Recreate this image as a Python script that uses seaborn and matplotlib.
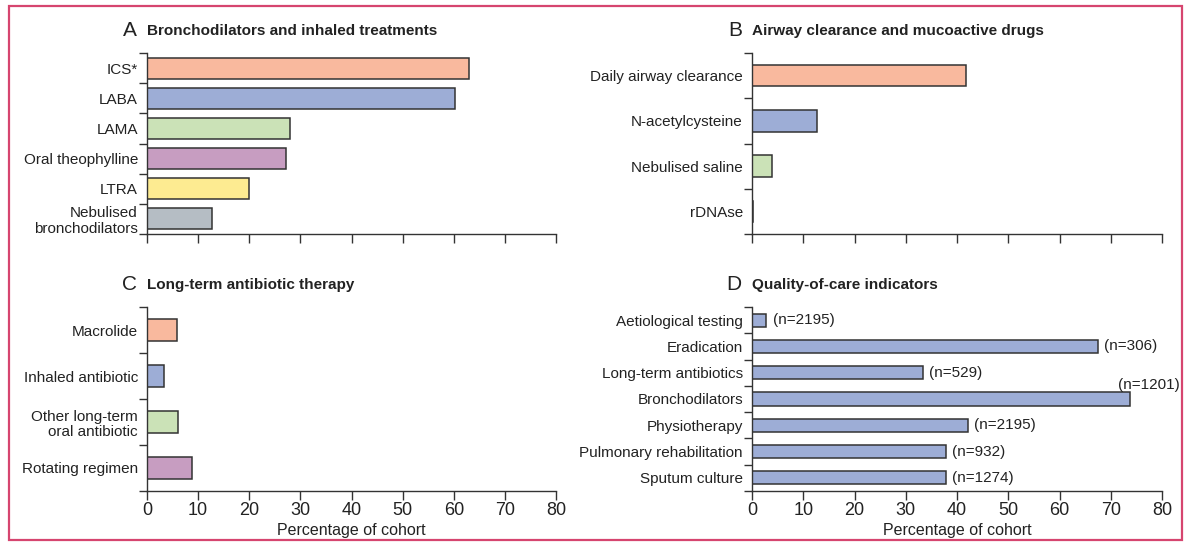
import matplotlib
matplotlib.use('Agg')
import matplotlib.pyplot as plt
import numpy as np
import seaborn as sns
from matplotlib.patches import Rectangle
from matplotlib.ticker import FixedLocator

# A: bronchodilators and inhaled treatments
a_labels = ['ICS*', 'LABA', 'LAMA', 'Oral theophylline', 'LTRA', 'Nebulised\nbronchodilators']
a_values = [63.0, 60.2, 27.9, 27.2, 19.9, 12.8]

# B: airway clearance and mucoactive drugs
b_labels = ['Daily airway clearance', 'N-acetylcysteine', 'Nebulised saline', 'rDNAse']
b_values = [41.8, 12.7, 3.9, 0.2]

# C: long-term antibiotic therapy
c_labels = ['Macrolide', 'Inhaled antibiotic', 'Other long-term\noral antibiotic', 'Rotating regimen']
c_values = [5.9, 3.4, 6.1, 8.8]

# D: quality-of-care indicators
d_labels = ['Aetiological testing', 'Eradication', 'Long-term antibiotics', 'Bronchodilators',
            'Physiotherapy', 'Pulmonary rehabilitation', 'Sputum culture']
d_values = [2.8, 67.5, 33.4, 73.7, 42.1, 37.9, 37.9]
d_n = ['(n=2195)', '(n=306)', '(n=529)', '(n=1201)', '(n=2195)', '(n=932)', '(n=1274)']

x_ticks = [0, 10, 20, 30, 40, 50, 60, 70, 80]

colors = ['#F9B99E', '#9DADD6', '#CBE2B7', '#C79DC1', '#FDEB91', '#B5BDC4']
d_color = '#9DADD6'
ink = '#333333'

sns.set_theme(style='ticks')
plt.rcParams['font.family'] = ['Liberation Sans Narrow', 'Liberation Sans', 'DejaVu Sans']

fig = plt.figure(figsize=(11.89, 5.44), dpi=100)

ax_a = fig.add_axes([147 / 1189, 1 - 234 / 544, 409 / 1189, 181 / 544])
ax_b = fig.add_axes([752 / 1189, 1 - 234 / 544, 410 / 1189, 181 / 544])
ax_c = fig.add_axes([147 / 1189, 1 - 491 / 544, 409 / 1189, 184 / 544])
ax_d = fig.add_axes([752 / 1189, 1 - 491 / 544, 410 / 1189, 184 / 544])


def draw_panel(ax, labels, values, palette, width, letter, title, show_x):
    n = len(labels)
    sns.barplot(x=values, y=labels, hue=labels, palette=palette, width=width, saturation=1,
                edgecolor=ink, linewidth=1.1, legend=False, ax=ax, orient='h')
    ax.set_xlim(0, 80)
    ax.set_ylim(n - 0.5, -0.5)
    ax.set_xticks(x_ticks)
    if show_x:
        ax.set_xticklabels([str(t) for t in x_ticks])
        ax.set_xlabel('Percentage of cohort', fontsize=11.5, color='#222222', labelpad=3)
    else:
        ax.set_xticklabels([])
        ax.set_xlabel('')
    ax.set_ylabel('')
    # category boundaries get the tick marks
    ax.yaxis.set_minor_locator(FixedLocator(np.arange(-0.5, n, 1.0)))
    ax.tick_params(axis='y', which='major', length=0, pad=6.5, labelsize=11, labelcolor='#222222')
    ax.tick_params(axis='y', which='minor', length=5.5, width=1, color=ink)
    ax.tick_params(axis='x', length=6.5, width=1, color=ink, labelsize=13, labelcolor='#222222', pad=1.5)
    for lab in ax.get_yticklabels():
        lab.set_linespacing(1.1)
    sns.despine(ax=ax)
    for s in ['left', 'bottom']:
        ax.spines[s].set_color(ink)
        ax.spines[s].set_linewidth(1)
    ax.text(-0.025, 1.125, letter, transform=ax.transAxes, ha='right', va='center',
            fontsize=15, color='#222222')
    ax.text(0.0, 1.12, title, transform=ax.transAxes, ha='left', va='center',
            fontsize=11, fontweight='bold', color='#222222')


draw_panel(ax_a, a_labels, a_values, colors[:6], 0.7, 'A', 'Bronchodilators and inhaled treatments', False)
draw_panel(ax_b, b_labels, b_values, colors[:4], 0.47, 'B', 'Airway clearance and mucoactive drugs', False)
draw_panel(ax_c, c_labels, c_values, colors[:4], 0.47, 'C', 'Long-term antibiotic therapy', True)
draw_panel(ax_d, d_labels, d_values, [d_color] * 7, 0.5, 'D', 'Quality-of-care indicators', True)

# sample sizes next to the bars in D
for i, (v, t) in enumerate(zip(d_values, d_n)):
    if d_labels[i] == 'Bronchodilators':
        ax_d.text(71.5, i - 0.55, t, ha='left', va='center', fontsize=11, color='#222222', clip_on=False)
    else:
        ax_d.text(v + 1.2, i, t, ha='left', va='center', fontsize=11, color='#222222')

# pink frame around the figure
fig.patches.append(Rectangle((9 / 1189, 4 / 544), 1173 / 1189, 534 / 544, transform=fig.transFigure,
                             fill=False, edgecolor='#D6456F', linewidth=1.6))

fig.savefig('out.png', dpi=100)
